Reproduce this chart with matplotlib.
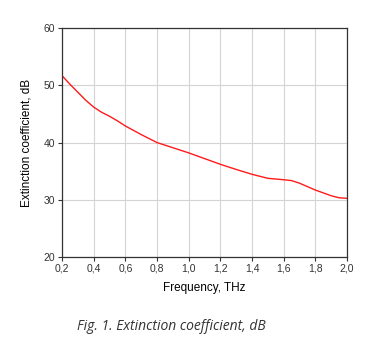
import matplotlib
matplotlib.use("Agg")
import matplotlib.pyplot as plt

freq = [0.2, 0.25, 0.3, 0.35, 0.4, 0.45, 0.5, 0.55, 0.6, 0.7, 0.8, 0.9, 1.0, 1.1, 1.2, 1.3,
        1.4, 1.5, 1.6, 1.65, 1.7, 1.75, 1.8, 1.85, 1.9, 1.95, 2.0]
ext = [51.7, 50.2, 48.8, 47.4, 46.2, 45.3, 44.6, 43.8, 42.9, 41.4, 40.0, 39.1, 38.2, 37.2,
       36.2, 35.3, 34.45, 33.75, 33.5, 33.35, 32.9, 32.3, 31.7, 31.2, 30.7, 30.35, 30.25]

xticks = [0.2, 0.4, 0.6, 0.8, 1.0, 1.2, 1.4, 1.6, 1.8, 2.0]
xticklabels = ["0,2", "0,4", "0,6", "0,8", "1,0", "1,2", "1,4", "1,6", "1,8", "2,0"]
yticks = [20, 30, 40, 50, 60]

plt.rcParams['font.family'] = ['Liberation Sans', 'DejaVu Sans']

fig = plt.figure(figsize=(3.78, 3.52), dpi=100)
ax = fig.add_axes([0.164, 0.27, 0.754, 0.65])
ax.plot(freq, ext, color='#ff1a1a', lw=1.0)
ax.set_xlim(0.2, 2.0)
ax.set_ylim(20, 60)
ax.set_xticks(xticks)
ax.set_xticklabels(xticklabels)
ax.set_yticks(yticks)
ax.grid(True, color='#d4d4d4', lw=0.8)
ax.tick_params(labelsize=7.5, length=3, width=0.8, color='#333333', labelcolor='#333333', pad=2)
for s in ax.spines.values():
    s.set_color('#333333')
    s.set_linewidth(0.9)
ax.set_xlabel("Frequency, THz", fontsize=8.5, labelpad=6)
ax.set_ylabel("Extinction coefficient, dB", fontsize=8.5, labelpad=8)
fig.text(0.205, 0.072, "Fig. 1. Extinction coefficient, dB", fontsize=10, style='italic',
         family=['Open Sans', 'DejaVu Sans'], color='#333333', va='center')
fig.savefig("out.png", dpi=100)
